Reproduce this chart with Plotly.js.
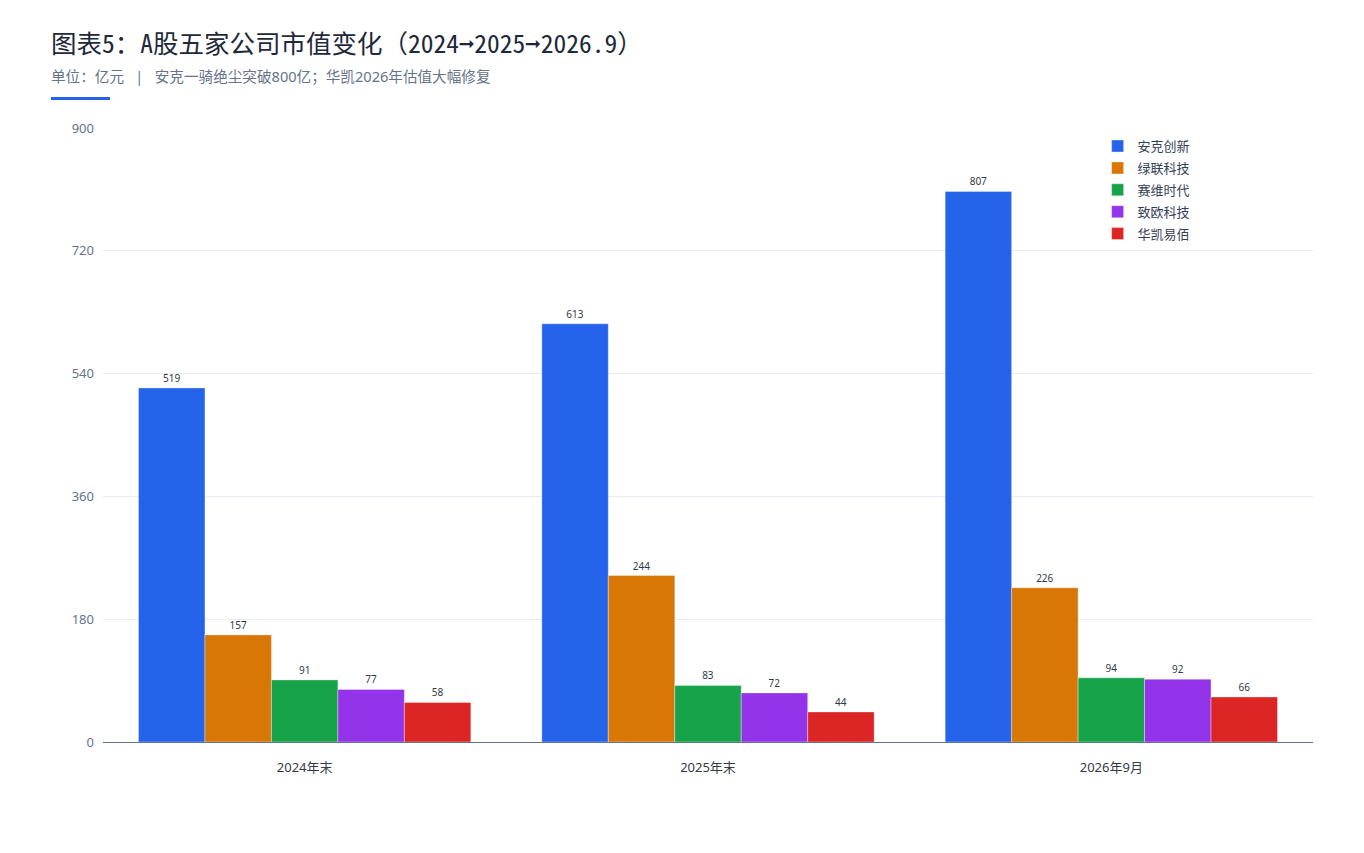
<!DOCTYPE html>
<html>
<head>
<meta charset="utf-8">
<script src="https://cdn.plot.ly/plotly-3.0.1.min.js"></script>
<style>
  html, body { margin: 0; padding: 0; background: #fff; }
  #chart { width: 1364px; height: 853px; }
</style>
</head>
<body>
<div id="chart"></div>
<script>
// categories and company values (亿元)
var periods = ['2024年末', '2025年末', '2026年9月'];
var companies = ['安克创新', '绿联科技', '赛维时代', '致欧科技', '华凯易佰'];
var anker   = [519, 613, 807];
var ugreen  = [157, 244, 226];
var sawei   = [91, 83, 94];
var ziou    = [77, 72, 92];
var huakai  = [58, 44, 66];
var colors  = ['#2563eb', '#d97706', '#16a34a', '#9333ea', '#dc2626'];
var yTicks  = [0, 180, 360, 540, 720, 900];

var series = [anker, ugreen, sawei, ziou, huakai];
var font = '"Noto Sans", "Noto Sans CJK SC", sans-serif';
var titleFont = '"Noto Sans Mono CJK SC", "Noto Sans CJK SC", monospace';

var traces = series.map(function (vals, i) {
    return {
        type: 'bar',
        name: companies[i],
        legendgroup: 'g' + i,
        x: periods,
        y: vals,
        text: vals.map(String),
        textposition: 'outside',
        cliponaxis: false,
        textfont: { size: 10, color: '#333a45', family: font },
        marker: { color: colors[i], line: { color: 'rgba(255,255,255,0.35)', width: 1 } },
        hoverinfo: 'name+y'
    };
});

var layout = {
    width: 1364,
    height: 853,
    margin: { l: 103, r: 51, t: 128, b: 111 },
    paper_bgcolor: '#ffffff',
    plot_bgcolor: '#ffffff',
    font: { family: font, color: '#334155' },
    barmode: 'group',
    bargap: 0.176,
    bargroupgap: 0,
    title: {
        text: '图表5：A股五家公司市值变化（2024➞2025➞2026.9）',
        font: { size: 25.5, color: '#1e293b', family: titleFont },
        xref: 'container', yref: 'container',
        x: 51 / 1364, xanchor: 'left',
        y: 1 - 44 / 853, yanchor: 'middle'
    },
    annotations: [{
        text: '单位：亿元   |   安克一骑绝尘突破800亿；华凯2026年估值大幅修复',
        xref: 'paper', yref: 'paper',
        x: -54 / 1210, xanchor: 'left',
        y: (742 - 76) / 614, yanchor: 'middle',
        showarrow: false,
        font: { size: 14.6, color: '#64748b', family: font }
    }],
    shapes: [{
        type: 'rect', xref: 'paper', yref: 'paper',
        x0: -52 / 1210, x1: 7 / 1210,
        y0: (742 - 100) / 614, y1: (742 - 97) / 614,
        fillcolor: '#2563eb', line: { width: 0 }
    }],
    xaxis: {
        tickfont: { size: 13, color: '#333a45' },
        showgrid: false,
        zeroline: false,
        showline: false,
        ticks: '',
        ticklabelstandoff: 16
    },
    yaxis: {
        range: [0, 900],
        tickvals: yTicks,
        tickfont: { size: 13, color: '#64748b' },
        gridcolor: '#e8ebf2',
        gridwidth: 1,
        zeroline: true,
        zerolinecolor: '#64748b',
        zerolinewidth: 1,
        ticks: '',
        ticklabelstandoff: 8
    },
    legend: {
        x: 0.822, xanchor: 'left',
        y: 0.995, yanchor: 'top',
        bgcolor: 'rgba(255,255,255,0)',
        font: { size: 13, color: '#334155' },
        tracegroupgap: 2,
        itemwidth: 30
    },
    showlegend: true
};

Plotly.newPlot('chart', traces, layout, { displayModeBar: false, staticPlot: true });
</script>
</body>
</html>
